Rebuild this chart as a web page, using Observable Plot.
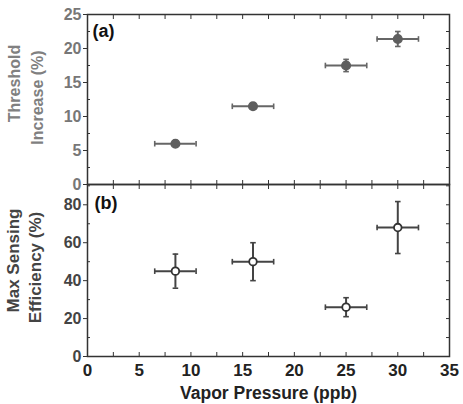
<!DOCTYPE html>
<html>
<head>
<meta charset="utf-8">
<script src="https://cdn.jsdelivr.net/npm/d3@7"></script>
<script src="https://cdn.jsdelivr.net/npm/@observablehq/plot@0.6"></script>
<style>
  html, body { margin: 0; padding: 0; background: #fff; }
  #chart { position: relative; width: 463px; height: 404px; font-family: "Liberation Sans", Arial, sans-serif; }
  #chart svg { position: absolute; left: 0; overflow: visible; }
</style>
</head>
<body>
<div id="chart"></div>
<script>
// ---- data ----
const pressure      = [8.5, 16, 25, 30];       // ppb
const pressureErr   = [2, 2, 2, 2];
const threshold     = [6, 11.5, 17.5, 21.4];   // %
const thresholdErr  = [0.3, 0.4, 0.9, 1.1];
const efficiency    = [45, 50, 26, 68];        // %
const efficiencyErr = [9, 10, 5, 13.7];

const xMajor = [0, 5, 10, 15, 20, 25, 30, 35];
const xMinor = [2.5, 7.5, 12.5, 17.5, 22.5, 27.5, 32.5];
const yTopMajor = [0, 5, 10, 15, 20, 25];
const yTopMinor = [2.5, 7.5, 12.5, 17.5, 22.5];
const yBotMajor = [0, 20, 40, 60, 80];
const yBotMinor = [10, 30, 50, 70, 90];

const topData = pressure.map((x, i) => ({x, xe: pressureErr[i], y: threshold[i], ye: thresholdErr[i]}));
const botData = pressure.map((x, i) => ({x, xe: pressureErr[i], y: efficiency[i], ye: efficiencyErr[i]}));

const FONT = '"Liberation Sans", Arial, sans-serif';
const vbar = {draw(ctx, size) { const r = Math.sqrt(size / Math.PI); ctx.moveTo(0, -r); ctx.lineTo(0, r); }};
const hbar = {draw(ctx, size) { const r = Math.sqrt(size / Math.PI); ctx.moveTo(-r, 0); ctx.lineTo(r, 0); }};
const noText = () => "";

function errorMarks(data, color, sw) {
  return [
    Plot.ruleY(data, {y: "y", x1: d => d.x - d.xe, x2: d => d.x + d.xe, stroke: color, strokeWidth: sw}),
    Plot.ruleX(data, {x: "x", y1: d => d.y - d.ye, y2: d => d.y + d.ye, stroke: color, strokeWidth: sw}),
    Plot.dot(data, {x: d => d.x - d.xe, y: "y", symbol: vbar, r: 2.8, fill: "none", stroke: color, strokeWidth: 1.6}),
    Plot.dot(data, {x: d => d.x + d.xe, y: "y", symbol: vbar, r: 2.8, fill: "none", stroke: color, strokeWidth: 1.6}),
    Plot.dot(data, {x: "x", y: d => d.y - d.ye, symbol: hbar, r: 2.8, fill: "none", stroke: color, strokeWidth: 1.6}),
    Plot.dot(data, {x: "x", y: d => d.y + d.ye, symbol: hbar, r: 2.8, fill: "none", stroke: color, strokeWidth: 1.6})
  ];
}

function frameTicks(yMajor, yMinor, labelColor, bottomLabels) {
  const all = xMajor.concat(xMinor);
  const yAll = yMajor.concat(yMinor);
  const marks = [
    Plot.frame({stroke: "#333", strokeWidth: 1.5}),
    Plot.axisY({ticks: yMajor, tickSize: 4, tickPadding: 2, stroke: "#333", fill: labelColor, fontSize: 16, fontWeight: "bold", label: null}),
    Plot.axisY({ticks: yMinor, tickSize: -3, tickFormat: noText, stroke: "#333", label: null}),
    Plot.axisY({anchor: "right", ticks: yAll, tickSize: -4, tickFormat: noText, stroke: "#333", label: null}),
    Plot.axisX({anchor: "top", ticks: all, tickSize: -4, tickFormat: noText, stroke: "#333", label: null}),
    Plot.axisX({anchor: "bottom", ticks: all, tickSize: -4, tickFormat: noText, stroke: "#333", label: null})
  ];
  if (bottomLabels) {
    marks.push(Plot.axisX({anchor: "bottom", ticks: xMajor, tickSize: 0, tickPadding: 7, fill: "#222", fontSize: 17, fontWeight: "bold", label: null}));
  }
  return marks;
}

const topPlot = Plot.plot({
  width: 463, height: 185,
  marginLeft: 87, marginRight: 14, marginTop: 14, marginBottom: 1,
  style: {fontFamily: FONT, background: "transparent"},
  x: {domain: [0, 35]},
  y: {domain: [0, 25]},
  marks: [
    ...frameTicks(yTopMajor, yTopMinor, "#777", false),
    ...errorMarks(topData, "#666", 2),
    Plot.dot(topData, {x: "x", y: "y", r: 4.3, fill: "#5e5e5e", stroke: "#5e5e5e"}),
    Plot.text(["(a)"], {frameAnchor: "top-left", dx: 5, dy: 10, fontSize: 18, fontWeight: "bold", fill: "#111"}),
    Plot.text(["Threshold"], {frameAnchor: "left", textAnchor: "middle", lineAnchor: "middle", dx: -73, dy: -16, rotate: -90, fontSize: 16, fontWeight: "bold", fill: "#808080"}),
    Plot.text(["Increase (%)"], {frameAnchor: "left", textAnchor: "middle", lineAnchor: "middle", dx: -50, dy: -2, rotate: -90, fontSize: 16, fontWeight: "bold", fill: "#808080"})
  ]
});
topPlot.style.top = "0px";

const botPlot = Plot.plot({
  width: 463, height: 221,
  marginLeft: 87, marginRight: 14, marginTop: 1, marginBottom: 48,
  style: {fontFamily: FONT, background: "transparent"},
  x: {domain: [0, 35]},
  y: {domain: [0, 90.7]},
  marks: [
    ...frameTicks(yBotMajor, yBotMinor, "#444", true),
    ...errorMarks(botData, "#444", 2),
    Plot.dot(botData, {x: "x", y: "y", r: 3.8, fill: "#fff", stroke: "#333", strokeWidth: 1.8}),
    Plot.text(["(b)"], {frameAnchor: "top-left", dx: 7, dy: 12, fontSize: 18, fontWeight: "bold", fill: "#111"}),
    Plot.text(["Max Sensing"], {frameAnchor: "left", textAnchor: "middle", lineAnchor: "middle", dx: -74, dy: -10, rotate: -90, fontSize: 17, fontWeight: "bold", fill: "#444"}),
    Plot.text(["Efficiency (%)"], {frameAnchor: "left", textAnchor: "middle", lineAnchor: "middle", dx: -52, dy: -3, rotate: -90, fontSize: 17, fontWeight: "bold", fill: "#444"}),
    Plot.text(["Vapor Pressure (ppb)"], {frameAnchor: "bottom", lineAnchor: "bottom", dy: 42, fontSize: 17.5, fontWeight: "bold", fill: "#222"})
  ]
});
botPlot.style.top = "183px";

const chart = document.getElementById("chart");
chart.appendChild(botPlot);
chart.appendChild(topPlot);
</script>
</body>
</html>
